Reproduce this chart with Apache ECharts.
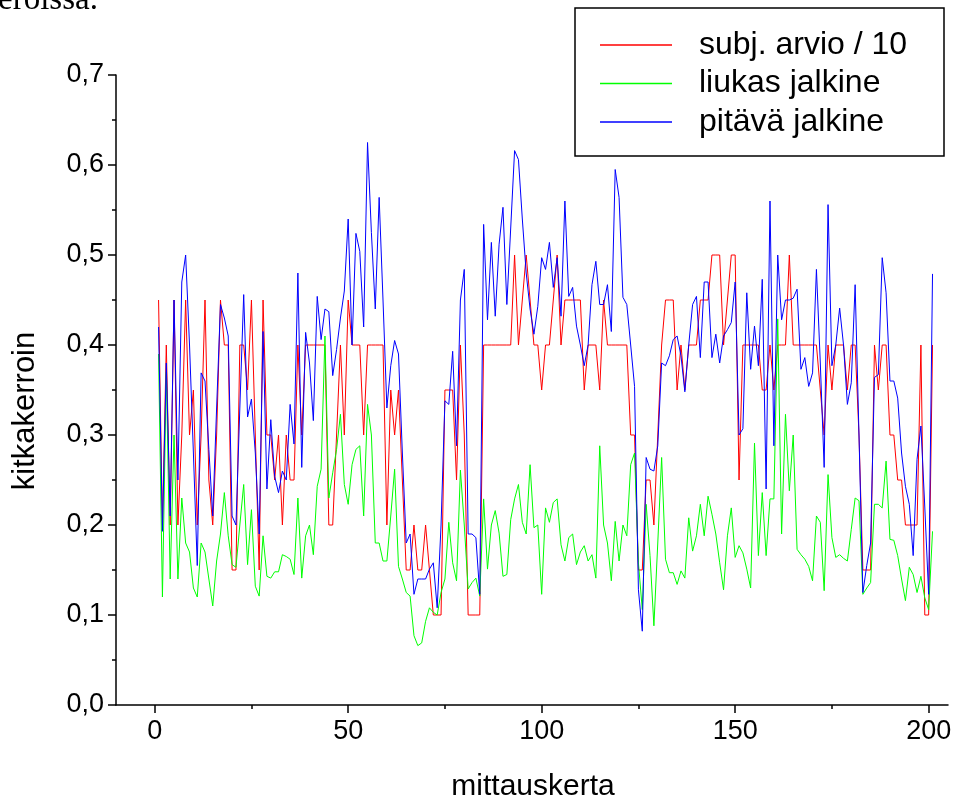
<!DOCTYPE html>
<html>
<head>
<meta charset="utf-8">
<script src="https://cdn.jsdelivr.net/npm/echarts@6/dist/echarts.min.js"></script>
<style>
  html, body { margin: 0; padding: 0; background: #ffffff; }
  #chart { width: 977px; height: 798px; }
</style>
</head>
<body>
<div id="chart"></div>
<script>
// Kitkakerroinmittaukset: subjektiivinen arvio (/10) sekä liukkaan ja pitävän jalkineen kitka
const seriesNames = ['subj. arvio / 10', 'liukas jalkine', 'pitävä jalkine'];
const seriesColors = ['#ff0000', '#00ff00', '#0000ff'];

const subjArvio = [
  0.45, 0.2, 0.4, 0.2, 0.45, 0.2, 0.3, 0.45, 0.3, 0.35,
  0.2, 0.3, 0.45, 0.25, 0.2, 0.3, 0.45, 0.4, 0.4, 0.15,
  0.15, 0.4, 0.4, 0.35, 0.45, 0.3, 0.15, 0.45, 0.3, 0.3,
  0.25, 0.3, 0.2, 0.3, 0.25, 0.25, 0.4, 0.3, 0.4, 0.4,
  0.4, 0.4, 0.4, 0.4, 0.2, 0.2, 0.3, 0.4, 0.3, 0.45,
  0.4, 0.4, 0.4, 0.3, 0.4, 0.4, 0.4, 0.4, 0.4, 0.2,
  0.35, 0.3, 0.35, 0.25, 0.15, 0.15, 0.2, 0.15, 0.15, 0.2,
  0.15, 0.1, 0.1, 0.1, 0.35, 0.35, 0.35, 0.25, 0.4, 0.3,
  0.1, 0.1, 0.1, 0.1, 0.4, 0.4, 0.4, 0.4, 0.4, 0.4,
  0.4, 0.4, 0.5, 0.4, 0.45, 0.5, 0.45, 0.4, 0.4, 0.35,
  0.4, 0.4, 0.45, 0.5, 0.4, 0.45, 0.45, 0.45, 0.45, 0.45,
  0.35, 0.4, 0.4, 0.4, 0.35, 0.45, 0.4, 0.4, 0.4, 0.4,
  0.4, 0.4, 0.3, 0.3, 0.15, 0.15, 0.25, 0.25, 0.2, 0.3,
  0.4, 0.45, 0.45, 0.45, 0.35, 0.4, 0.35, 0.4, 0.4, 0.4,
  0.45, 0.45, 0.45, 0.5, 0.5, 0.5, 0.4, 0.45, 0.5, 0.5,
  0.25, 0.4, 0.4, 0.4, 0.4, 0.4, 0.35, 0.35, 0.4, 0.35,
  0.4, 0.4, 0.4, 0.5, 0.4, 0.4, 0.4, 0.4, 0.4, 0.4,
  0.4, 0.35, 0.3, 0.4, 0.35, 0.4, 0.4, 0.4, 0.35, 0.4,
  0.4, 0.3, 0.15, 0.15, 0.15, 0.4, 0.35, 0.4, 0.4, 0.3,
  0.3, 0.25, 0.25, 0.2, 0.2, 0.2, 0.2, 0.4, 0.1, 0.1,
  0.4
];

const liukasJalkine = [
  0.39, 0.12, 0.37, 0.14, 0.30, 0.14, 0.23, 0.18, 0.17, 0.13,
  0.12, 0.18, 0.17, 0.14, 0.11, 0.16, 0.19, 0.236, 0.188, 0.156,
  0.153, 0.2, 0.245, 0.156, 0.217, 0.132, 0.121, 0.188, 0.143, 0.141,
  0.148, 0.148, 0.167, 0.165, 0.162, 0.145, 0.23, 0.141, 0.188, 0.2,
  0.167, 0.243, 0.262, 0.41, 0.23, 0.258, 0.284, 0.323, 0.245, 0.223,
  0.267, 0.284, 0.288, 0.21, 0.334, 0.3, 0.18, 0.18, 0.16, 0.16,
  0.21, 0.262, 0.154, 0.14, 0.125, 0.121, 0.077, 0.066, 0.069, 0.093,
  0.108, 0.103, 0.1, 0.125, 0.14, 0.203, 0.158, 0.138, 0.261, 0.2,
  0.129, 0.136, 0.141, 0.121, 0.229, 0.151, 0.2, 0.216, 0.191, 0.143,
  0.145, 0.206, 0.229, 0.245, 0.203, 0.19, 0.267, 0.197, 0.2, 0.123,
  0.219, 0.203, 0.225, 0.229, 0.178, 0.16, 0.186, 0.19, 0.156, 0.17,
  0.177, 0.16, 0.167, 0.141, 0.288, 0.2, 0.18, 0.138, 0.204, 0.16,
  0.2, 0.188, 0.267, 0.28, 0.158, 0.106, 0.223, 0.166, 0.088, 0.18,
  0.275, 0.162, 0.147, 0.147, 0.134, 0.149, 0.141, 0.208, 0.171, 0.188,
  0.223, 0.188, 0.232, 0.212, 0.19, 0.158, 0.128, 0.188, 0.219, 0.164,
  0.177, 0.169, 0.151, 0.13, 0.291, 0.166, 0.236, 0.166, 0.229, 0.229,
  0.429, 0.19, 0.323, 0.238, 0.3, 0.173, 0.167, 0.162, 0.154, 0.138,
  0.21, 0.203, 0.127, 0.256, 0.186, 0.164, 0.167, 0.163, 0.16, 0.195,
  0.23, 0.227, 0.123, 0.13, 0.136, 0.223, 0.223, 0.219, 0.271, 0.184,
  0.183, 0.166, 0.14, 0.116, 0.153, 0.145, 0.125, 0.143, 0.119, 0.106,
  0.193
];

const pitavaJalkine = [
  0.42, 0.193, 0.38, 0.21, 0.45, 0.25, 0.47, 0.5, 0.4, 0.28,
  0.155, 0.369, 0.36, 0.284, 0.21, 0.33, 0.445, 0.43, 0.41, 0.21,
  0.2, 0.33, 0.456, 0.32, 0.34, 0.28, 0.19, 0.415, 0.24, 0.317,
  0.254, 0.236, 0.26, 0.25, 0.334, 0.29, 0.48, 0.264, 0.414, 0.38,
  0.316, 0.454, 0.406, 0.44, 0.437, 0.366, 0.395, 0.43, 0.46, 0.54,
  0.4, 0.524, 0.504, 0.42, 0.625, 0.525, 0.44, 0.564, 0.45, 0.33,
  0.377, 0.405, 0.39, 0.28, 0.18, 0.19, 0.123, 0.14, 0.14, 0.14,
  0.151, 0.158, 0.108, 0.2, 0.338, 0.334, 0.393, 0.288, 0.45, 0.484,
  0.19, 0.19, 0.186, 0.123, 0.534, 0.428, 0.514, 0.432, 0.512, 0.553,
  0.445, 0.53, 0.616, 0.606, 0.54, 0.48, 0.44, 0.412, 0.443, 0.497,
  0.484, 0.514, 0.464, 0.497, 0.432, 0.56, 0.454, 0.464, 0.421, 0.4,
  0.377, 0.4, 0.467, 0.493, 0.445, 0.445, 0.467, 0.415, 0.595, 0.564,
  0.453, 0.445, 0.4, 0.354, 0.128, 0.082, 0.275, 0.262, 0.26, 0.288,
  0.38, 0.377, 0.388, 0.406, 0.41, 0.388, 0.348, 0.4, 0.445, 0.454,
  0.386, 0.47, 0.47, 0.386, 0.412, 0.38, 0.41, 0.417, 0.425, 0.47,
  0.3, 0.307, 0.458, 0.373, 0.421, 0.377, 0.473, 0.24, 0.56, 0.288,
  0.5, 0.428, 0.45, 0.45, 0.452, 0.462, 0.373, 0.386, 0.354, 0.369,
  0.484, 0.38, 0.264, 0.556, 0.377, 0.4, 0.441, 0.4, 0.334, 0.358,
  0.467, 0.3, 0.125, 0.155, 0.18, 0.364, 0.367, 0.497, 0.458, 0.36,
  0.36, 0.341, 0.28, 0.243, 0.223, 0.166, 0.273, 0.31, 0.22, 0.123,
  0.479
];

const xTickValues = [0, 50, 100, 150, 200];
const xMinorTickValues = [25, 75, 125, 175];
const xTitle = 'mittauskerta';
const yTitle = 'kitkakerroin';

const FONT = '"Liberation Sans", Arial, sans-serif';

function pairs(values) {
  return values.map((v, k) => [k + 1, v]);
}

const chart = echarts.init(document.getElementById('chart'), null, { renderer: 'canvas' });

const axisLineStyle = { color: '#000', width: 1.5 };

chart.setOption({
  backgroundColor: '#ffffff',
  animation: false,
  grid: { left: 116, top: 75, width: 832, height: 630, containLabel: false },
  xAxis: [
    {
      type: 'value',
      min: -10,
      max: 205,
      axisLine: { show: true, onZero: false, lineStyle: axisLineStyle },
      axisTick: { show: true, inside: false, length: 8, lineStyle: axisLineStyle, customValues: xTickValues },
      axisLabel: { show: true, margin: 13, color: '#000', fontFamily: FONT, fontSize: 27, customValues: xTickValues },
      splitLine: { show: false }
    },
    {
      type: 'value',
      min: -10,
      max: 205,
      position: 'bottom',
      axisLine: { show: false, onZero: false },
      axisTick: { show: true, inside: false, length: 4, lineStyle: axisLineStyle, customValues: xMinorTickValues },
      axisLabel: { show: false },
      splitLine: { show: false }
    }
  ],
  yAxis: {
    type: 'value',
    min: 0,
    max: 0.7,
    interval: 0.1,
    axisLine: { show: true, onZero: false, lineStyle: axisLineStyle },
    axisTick: { show: true, inside: false, length: 8, lineStyle: axisLineStyle },
    minorTick: { show: true, splitNumber: 2, length: 4, lineStyle: axisLineStyle },
    axisLabel: {
      margin: 12,
      color: '#000',
      fontFamily: FONT,
      fontSize: 27,
      formatter: v => v.toFixed(1).replace('.', ',')
    },
    splitLine: { show: false }
  },
  legend: {
    show: true,
    orient: 'vertical',
    left: 600,
    top: 29,
    padding: 0,
    itemGap: 6.5,
    itemWidth: 72,
    itemHeight: 1.6,
    icon: 'rect',
    z: 10,
    textStyle: { color: '#000', fontFamily: FONT, fontSize: 32, lineHeight: 32, padding: [0, 0, 0, 22] },
    data: seriesNames
  },
  graphic: [
    {
      // legend frame
      type: 'rect',
      z: 5,
      shape: { x: 575, y: 8, width: 369, height: 148 },
      style: { fill: '#ffffff', stroke: '#000', lineWidth: 1.5 }
    },
    {
      type: 'text',
      x: -2,
      y: 17,
      style: {
        text: 'eroissa.',
        font: '33px "Liberation Serif", "Times New Roman", serif',
        fill: '#000',
        verticalAlign: 'bottom'
      }
    },
    {
      type: 'text',
      x: 533,
      y: 787,
      style: { text: xTitle, font: '30px ' + FONT, fill: '#000', align: 'center', verticalAlign: 'middle' }
    },
    {
      type: 'text',
      x: 25,
      y: 411,
      rotation: Math.PI / 2,
      style: { text: yTitle, font: '31px ' + FONT, fill: '#000', align: 'center', verticalAlign: 'middle' }
    }
  ],
  series: [
    { name: seriesNames[0], type: 'line', data: pairs(subjArvio), symbol: 'none', lineStyle: { color: seriesColors[0], width: 1 }, itemStyle: { color: seriesColors[0] }, z: 2 },
    { name: seriesNames[1], type: 'line', data: pairs(liukasJalkine), symbol: 'none', lineStyle: { color: seriesColors[1], width: 1 }, itemStyle: { color: seriesColors[1] }, z: 3 },
    { name: seriesNames[2], type: 'line', data: pairs(pitavaJalkine), symbol: 'none', lineStyle: { color: seriesColors[2], width: 1 }, itemStyle: { color: seriesColors[2] }, z: 4 }
  ]
});
</script>
</body>
</html>
